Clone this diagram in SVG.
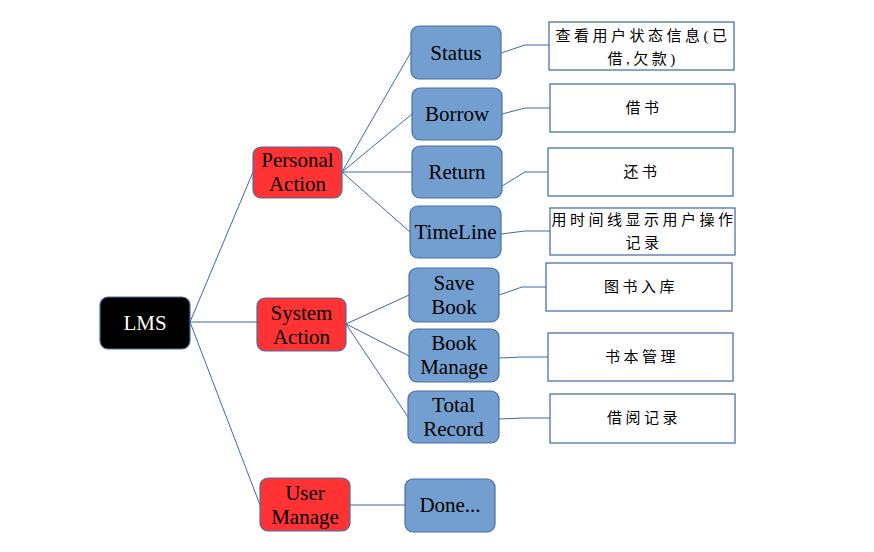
<svg xmlns="http://www.w3.org/2000/svg" width="874" height="552" viewBox="0 0 874 552">
<style>
.n rect{stroke:#4a6fa5;stroke-width:1.2}
.root rect{fill:#000}
.red rect{fill:#ff3333}
.blue rect{fill:#729fcf}
.box rect{fill:#fff;stroke:#3b66a6;stroke-width:1.2}
.t{font-family:"Liberation Serif","DejaVu Serif",serif;font-size:21px;text-anchor:middle;fill:#000}
.root .t{fill:#fff}
.c{font-family:"Liberation Serif","Noto Sans CJK SC",serif;font-size:15px;letter-spacing:3.5px;text-anchor:middle;fill:#000}
#connectors path{fill:none;stroke:#3f68a8;stroke-width:1}
</style>
<rect width="874" height="552" fill="#fff"/>
<g id="connectors">
<path d="M190 322L253 172"/>
<path d="M190 322L257 322"/>
<path d="M190 322L260 505"/>
<path d="M342 172L411 52"/>
<path d="M342 172L412 114"/>
<path d="M342 172L412 172"/>
<path d="M342 172L410 232"/>
<path d="M346 324L409 295"/>
<path d="M346 324L409 356"/>
<path d="M346 324L408 417"/>
<path d="M350 505L405 505"/>
<path d="M501 53L525 45L549 45"/>
<path d="M502 114L525 108L550 108"/>
<path d="M502 186L525 172L548 172"/>
<path d="M501 234L525 231L550 231"/>
<path d="M499 295L522 287L546 287"/>
<path d="M499 358L523 357L548 357"/>
<path d="M499 419L524 418L550 418"/>
</g>
<g id="lms" class="n root"><rect x="100" y="297" width="90" height="52" rx="8"/><text class="t" x="145" y="330">LMS</text></g>
<g id="personal" class="n red"><rect x="253" y="147" width="89" height="51" rx="8"/><text class="t" x="297.5" y="167">Personal</text><text class="t" x="297.5" y="191">Action</text></g>
<g id="system" class="n red"><rect x="257" y="298" width="89" height="53" rx="8"/><text class="t" x="301.5" y="320">System</text><text class="t" x="301.5" y="344">Action</text></g>
<g id="user" class="n red"><rect x="260" y="478" width="90" height="53" rx="8"/><text class="t" x="305" y="500">User</text><text class="t" x="305" y="524">Manage</text></g>
<g id="done" class="n blue"><rect x="405" y="479" width="90" height="53" rx="8"/><text class="t" x="450" y="512">Done...</text></g>
<g id="status" class="n blue"><rect x="411" y="26" width="90" height="53" rx="8"/><text class="t" x="456" y="60">Status</text></g>
<g id="borrow" class="n blue"><rect x="412" y="88" width="90" height="52" rx="8"/><text class="t" x="457" y="121">Borrow</text></g>
<g id="return" class="n blue"><rect x="412" y="146" width="90" height="52" rx="8"/><text class="t" x="457" y="179">Return</text></g>
<g id="timeline" class="n blue"><rect x="410" y="206" width="91" height="52" rx="8"/><text class="t" x="455.5" y="239">TimeLine</text></g>
<g id="savebook" class="n blue"><rect x="409" y="268" width="90" height="54" rx="8"/><text class="t" x="454" y="290">Save</text><text class="t" x="454" y="314">Book</text></g>
<g id="bookmanage" class="n blue"><rect x="409" y="329" width="90" height="53" rx="8"/><text class="t" x="454" y="350">Book</text><text class="t" x="454" y="374">Manage</text></g>
<g id="totalrecord" class="n blue"><rect x="408" y="391" width="91" height="52" rx="8"/><text class="t" x="453.5" y="412">Total</text><text class="t" x="453.5" y="436">Record</text></g>
<g id="status-desc" class="box"><rect x="549" y="22" width="185" height="48"/><text class="c" x="643" y="41">查看用户状态信息(已</text><text class="c" x="643" y="64">借,欠款)</text></g>
<g id="borrow-desc" class="box"><rect x="550" y="84" width="185" height="48"/><text class="c" x="644" y="113">借书</text></g>
<g id="return-desc" class="box"><rect x="548" y="148" width="185" height="48"/><text class="c" x="642" y="177">还书</text></g>
<g id="timeline-desc" class="box"><rect x="550" y="208" width="185" height="47"/><text class="c" x="644" y="225">用时间线显示用户操作</text><text class="c" x="644" y="248">记录</text></g>
<g id="savebook-desc" class="box"><rect x="546" y="263" width="186" height="48"/><text class="c" x="641" y="292">图书入库</text></g>
<g id="bookmanage-desc" class="box"><rect x="548" y="333" width="185" height="48"/><text class="c" x="642" y="362">书本管理</text></g>
<g id="totalrecord-desc" class="box"><rect x="550" y="394" width="185" height="49"/><text class="c" x="644" y="423">借阅记录</text></g>
</svg>
